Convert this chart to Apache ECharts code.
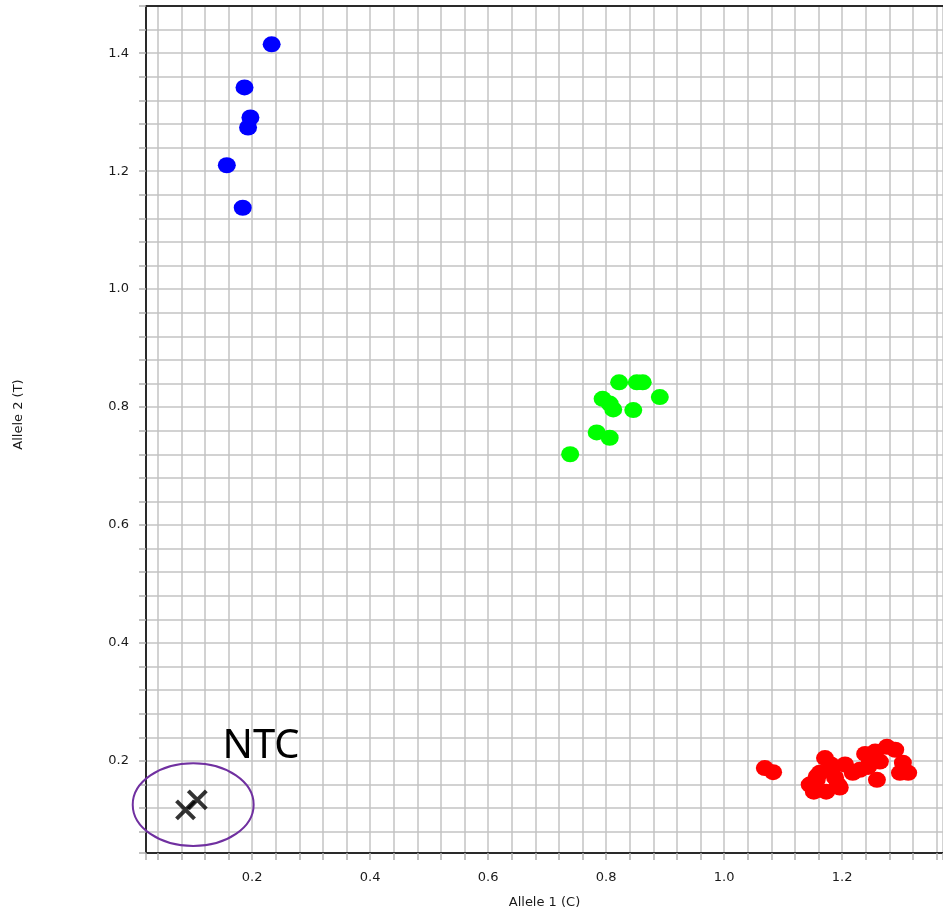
<!DOCTYPE html>
<html>
<head>
<meta charset="utf-8">
<script src="https://cdn.jsdelivr.net/npm/echarts@6.0.0/dist/echarts.min.js"></script>
<style>
  html, body { margin: 0; padding: 0; background: #fff; overflow: hidden; }
  #main { width: 943px; height: 920px; }
</style>
</head>
<body>
<div id="main"></div>
<script>
// allele 1 (C) / allele 2 (T) signal per well
const allele2Calls = [
    [0.233, 1.415], [0.187, 1.342], [0.197, 1.291], [0.193, 1.274],
    [0.157, 1.21], [0.184, 1.138],
]
const heteroCalls = [
    [0.822, 0.842], [0.852, 0.842], [0.862, 0.842], [0.891, 0.817],
    [0.794, 0.814], [0.806, 0.806], [0.812, 0.796], [0.846, 0.795],
    [0.784, 0.757], [0.806, 0.748], [0.739, 0.72],
]
const allele1Calls = [
    [1.069, 0.188], [1.083, 0.181], [1.145, 0.16], [1.152, 0.148],
    [1.173, 0.148], [1.171, 0.205], [1.162, 0.18], [1.193, 0.16],
    [1.188, 0.172], [1.205, 0.194], [1.218, 0.18], [1.239, 0.212],
    [1.256, 0.216], [1.276, 0.224], [1.29, 0.219], [1.259, 0.168],
    [1.247, 0.197], [1.303, 0.197], [1.312, 0.18], [1.23, 0.185],
    [1.181, 0.194], [1.157, 0.168], [1.298, 0.18], [1.184, 0.19],
    [1.264, 0.199], [1.244, 0.19], [1.196, 0.155], [1.157, 0.174],
]
const ntcCalls = [
    [0.087, 0.117], [0.107, 0.134],
]
// circled no-template-control group: centre x, centre y, radius x, radius y
const ntcRing = [[0.1, 0.126, 0.1025, 0.07]]
const ntcNote = [[0.215, 0.224, 'NTC']]

const axisFont = 'DejaVu Sans'
const gridColor = '#c4c4c4'
const xMin = 0.02
const xMax = 1.371

const valueAxis = (name, min, max) => ({
    type: 'value',
    name: name,
    nameLocation: 'middle',
    nameTextStyle: { color: '#1a1a1a', fontSize: 13, fontFamily: axisFont },
    min: min,
    max: max,
    splitNumber: 7,
    axisLine: { show: true, onZero: false, lineStyle: { color: '#2a2a2a', width: 2 } },
    axisTick: { show: true, length: 7, lineStyle: { color: '#b0b0b0', width: 1.5 } },
    minorTick: { show: true, splitNumber: 5, length: 7, lineStyle: { color: '#b0b0b0', width: 1.5 } },
    splitLine: { show: true, lineStyle: { color: gridColor, width: 1.5 } },
    minorSplitLine: { show: true, lineStyle: { color: gridColor, width: 1.5 } },
    axisLabel: {
        color: '#1a1a1a',
        fontSize: 13,
        fontFamily: axisFont,
        showMinLabel: false,
        showMaxLabel: false,
        formatter: (v) => v.toFixed(1),
    },
})

const xAxis = valueAxis('Allele 1 (C)', xMin, xMax)
xAxis.nameGap = 43
xAxis.axisLabel.margin = 18
// plain top frame line
const xAxisTop = {
    type: 'value',
    position: 'top',
    min: xMin,
    max: xMax,
    axisLine: { show: true, onZero: false, lineStyle: { color: '#2a2a2a', width: 2 } },
    axisTick: { show: false },
    axisLabel: { show: false },
    splitLine: { show: false },
}
const yAxis = valueAxis('Allele 2 (T)', 0.044, 1.48)
yAxis.nameGap = 121
yAxis.nameTextStyle.padding = [0, 0, 0, 30]
yAxis.axisLabel.margin = 17

const dots = (data, color) => ({
    type: 'scatter',
    data: data,
    symbol: 'circle',
    symbolSize: [18, 16],
    itemStyle: { color: color, opacity: 1 },
    emphasis: { disabled: true },
})

const chart = echarts.init(document.getElementById('main'))
chart.setOption({
    animation: false,
    grid: {
        left: 146,
        top: 6,
        right: 0,
        bottom: 67,
    },
    xAxis: [xAxis, xAxisTop],
    yAxis: yAxis,
    series: [
        dots(allele2Calls, '#0000ff'),
        dots(heteroCalls, '#00ff00'),
        dots(allele1Calls, '#ff0000'),
        {
            type: 'scatter',
            data: ntcCalls,
            symbol: 'path://M0,0L10,10M10,0L0,10',
            symbolSize: 18,
            itemStyle: { color: 'none', borderColor: '#000', borderWidth: 4 },
            emphasis: { disabled: true },
        },
        {
            type: 'custom',
            data: ntcRing,
            clip: false,
            silent: true,
            renderItem: (params, api) => {
                const c = api.coord([api.value(0), api.value(1)])
                const s = api.size([api.value(2), api.value(3)])
                return {
                    type: 'ellipse',
                    shape: { cx: c[0], cy: c[1], rx: s[0], ry: s[1] },
                    style: { fill: 'none', stroke: '#7030a0', lineWidth: 2 },
                }
            },
        },
        {
            type: 'custom',
            data: ntcNote,
            clip: false,
            silent: true,
            renderItem: (params, api) => {
                const c = api.coord([api.value(0), api.value(1)])
                return {
                    type: 'text',
                    x: c[0],
                    y: c[1],
                    style: {
                        text: ntcNote[params.dataIndex][2],
                        fill: '#000',
                        font: '40px "Noto Sans"',
                        align: 'center',
                        verticalAlign: 'middle',
                    },
                }
            },
        },
    ],
})
</script>
</body>
</html>
